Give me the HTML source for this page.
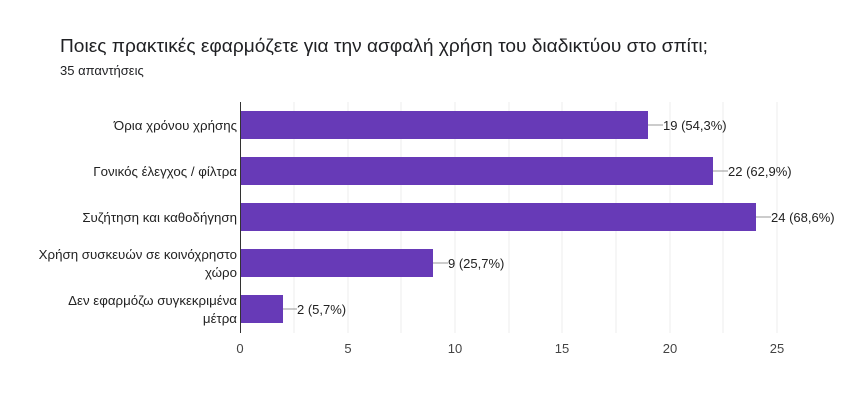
<!DOCTYPE html>
<html><head><meta charset="utf-8"><style>
html,body{margin:0;padding:0;background:#fff;}
svg{display:block;font-family:"Liberation Sans","DejaVu Sans",sans-serif;}
</style></head><body>
<svg width="850" height="405" viewBox="0 0 850 405" xmlns="http://www.w3.org/2000/svg">
<rect width="850" height="405" fill="#fff"/>
<text x="60" y="52" font-size="18" fill="#202124" textLength="648" lengthAdjust="spacingAndGlyphs">Ποιες πρακτικές εφαρμόζετε για την ασφαλή χρήση του διαδικτύου στο σπίτι;</text>
<text x="60" y="75" font-size="13" fill="#202124">35 απαντήσεις</text>
<g stroke="#ececec" stroke-width="1">
<line x1="294" y1="102" x2="294" y2="333"/><line x1="348" y1="102" x2="348" y2="333"/>
<line x1="401" y1="102" x2="401" y2="333"/><line x1="455" y1="102" x2="455" y2="333"/>
<line x1="509" y1="102" x2="509" y2="333"/><line x1="562" y1="102" x2="562" y2="333"/>
<line x1="616" y1="102" x2="616" y2="333"/><line x1="670" y1="102" x2="670" y2="333"/>
<line x1="723" y1="102" x2="723" y2="333"/><line x1="777" y1="102" x2="777" y2="333"/>
</g>
<g fill="#673ab7">
<rect x="240" y="111" width="408" height="28"/>
<rect x="240" y="157" width="473" height="28"/>
<rect x="240" y="203" width="516" height="28"/>
<rect x="240" y="249" width="193" height="28"/>
<rect x="240" y="295" width="43" height="28"/>
</g>
<line x1="240.5" y1="102" x2="240.5" y2="333" stroke="#333" stroke-width="1"/>
<g stroke="#999" stroke-width="1">
<line x1="648" y1="125" x2="663" y2="125"/><line x1="713" y1="171" x2="728" y2="171"/>
<line x1="756" y1="217" x2="771" y2="217"/><line x1="433" y1="263" x2="448" y2="263"/>
<line x1="283" y1="309" x2="297" y2="309"/>
</g>
<g font-size="13" fill="#222">
<text x="663" y="130">19 (54,3%)</text>
<text x="728" y="176">22 (62,9%)</text>
<text x="771" y="222">24 (68,6%)</text>
<text x="448" y="268">9 (25,7%)</text>
<text x="297" y="314">2 (5,7%)</text>
</g>
<g font-size="13.3" fill="#222" text-anchor="end">
<text x="237" y="130">Όρια χρόνου χρήσης</text>
<text x="237" y="176">Γονικός έλεγχος / φίλτρα</text>
<text x="237" y="222">Συζήτηση και καθοδήγηση</text>
<text x="237" y="259">Χρήση συσκευών σε κοινόχρηστο</text>
<text x="237" y="277">χώρο</text>
<text x="237" y="305">Δεν εφαρμόζω συγκεκριμένα</text>
<text x="237" y="323">μέτρα</text>
</g>
<g font-size="13" fill="#444" text-anchor="middle">
<text x="240" y="353">0</text><text x="348" y="353">5</text><text x="455" y="353">10</text>
<text x="562" y="353">15</text><text x="670" y="353">20</text><text x="777" y="353">25</text>
</g>
</svg>
</body></html>
